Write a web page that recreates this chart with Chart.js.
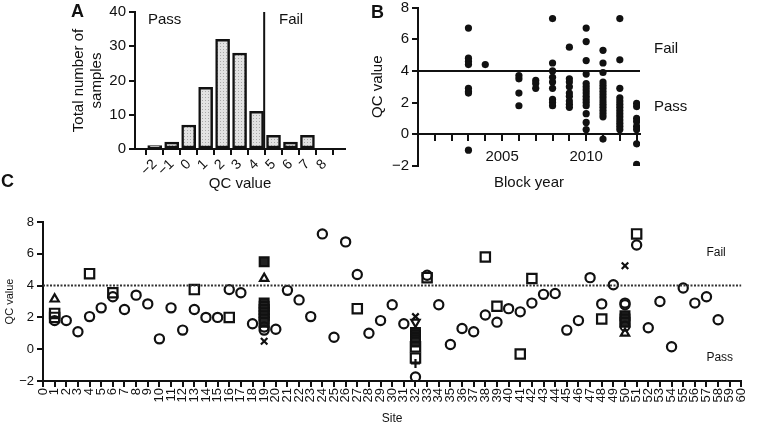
<!DOCTYPE html>
<html>
<head>
<meta charset="utf-8">
<title>QC value</title>
<script src="https://cdn.jsdelivr.net/npm/chart.js"></script>
<style>
    body { margin: 0; background: #fff; width: 758px; height: 427px; position: relative; overflow: hidden;
           font-family: "Liberation Sans", Arial, Helvetica, sans-serif; }
    canvas { position: absolute; }
    .panel-letter { position: absolute; font-weight: bold; font-size: 18px; line-height: 1; color: #111; }
</style>
</head>
<body>
<canvas id="histChart" width="365" height="195" style="left:0;top:0"></canvas>
<canvas id="yearChart" width="408" height="200" style="left:350px;top:0"></canvas>
<canvas id="siteChart" width="758" height="237" style="left:0;top:190px"></canvas>
<div class="panel-letter" style="left:71px;top:2px">A</div>
<div class="panel-letter" style="left:371px;top:3px">B</div>
<div class="panel-letter" style="left:1px;top:172px">C</div>

<script>
// A: histogram of QC values
const qcBins = [-2, -1, 0, 1, 2, 3, 4, 5, 6, 7, 8];
const sampleCounts = [1, 2, 7, 18, 32, 28, 11, 4, 2, 4, 0];
const histFailCut = 4.45;

// B: QC value by block year
const blockYears = [2003, 2004, 2006, 2007, 2008, 2009, 2010, 2011, 2012, 2013];
const yearQC = [
    [6.7, 4.8, 4.6, 4.4, 2.9, 2.7, 2.6, -1.0],
    [4.4],
    [3.7, 3.5, 2.6, 1.8],
    [3.4, 3.2, 2.9],
    [7.3, 4.5, 4.0, 3.6, 3.3, 2.9, 2.2, 2.0, 1.8],
    [5.5, 3.5, 3.3, 3.0, 2.6, 2.4, 2.1, 1.9, 1.7],
    [6.7, 5.85, 4.65, 3.8, 3.2, 3.0, 2.8, 2.6, 2.4, 2.2, 2.0, 1.8, 1.3, 0.75, 0.3],
    [5.3, 4.5, 3.9, 3.3, 3.1, 2.9, 2.7, 2.5, 2.3, 2.1, 1.9, 1.7, 1.5, 1.3, 1.1, -0.3],
    [7.3, 4.7, 2.9, 2.3, 2.1, 1.9, 1.7, 1.5, 1.3, 1.1, 0.9, 0.7, 0.5, 0.3],
    [1.95, 1.75, 1.0, 0.8, 0.5, 0.3, -0.6, -1.9]
];
const qcThreshold = 4;

// C: QC value by site, one pair of arrays per marker
const circleSites = [1,2,3,4,5,6,7,8,9,10,11,12,13,14,15,16,17,18,19,19,20,21,22,23,24,25,26,27,28,29,30,31,32,
    33,34,35,36,37,38,39,40,41,42,43,44,45,46,47,48,49,50,50,50,51,52,53,54,55,56,57,58];
const circleQC = [1.8,1.8,1.1,2.05,2.6,3.3,2.5,3.4,2.85,0.65,2.6,1.2,2.5,2.0,2.0,3.75,3.55,1.6,1.4,1.2,
    1.25,3.7,3.1,2.05,7.25,0.75,6.75,4.7,1.0,1.8,2.8,1.6,-1.75,
    4.65,2.8,0.3,1.3,1.1,2.15,1.7,2.55,2.35,2.9,3.45,3.5,1.2,1.8,4.5,2.85,4.05,2.9,2.8,1.45,
    6.55,1.35,3.0,0.15,3.85,2.9,3.3,1.85];
const squareSites = [1,1,4,6,13,16,27,32,32,33,38,39,41,42,48,51];
const squareQC = [2.25,2.0,4.75,3.55,3.75,2.0,2.55,0.15,-0.55,4.5,5.8,2.7,-0.3,4.45,1.9,7.25];
const filledSites = [19,19,19,19,19,19,19,19,32,32,32,32,32,50,50,50];
const filledQC = [5.5,2.9,2.7,2.5,2.3,2.1,1.9,1.7,1.05,0.9,0.75,0.6,0.45,2.1,1.9,1.7];
const triangleSites = [1, 19, 50];
const triangleQC = [3.15, 4.45, 1.0];
const downSites = [32];
const downQC = [1.7];
const crossSites = [19, 32, 50];
const crossQC = [0.5, 2.05, 5.25];
const plusSites = [32];
const plusQC = [-0.9];
const siteTicks = Array.from({length: 61}, (_, i) => i);

const INK = '#111';
Chart.defaults.font.family = '"Liberation Sans", Arial, Helvetica, sans-serif';
Chart.defaults.color = INK;

const minus = v => v < 0 ? '\u2212' + (-v) : String(v);
const pairs = (xs, ys) => xs.map((x, i) => ({x: x, y: ys[i]}));

// text notes drawn on the canvas, placed from the chart area
const notes = {
    id: 'notes',
    afterDraw(chart, args, opts) {
        const ctx = chart.ctx, a = chart.chartArea;
        ctx.save();
        ctx.fillStyle = INK;
        ctx.font = opts.font;
        ctx.textBaseline = 'middle';
        opts.items.forEach(it => {
            const x = it.fromRight ? a.right + it.dx : a.left + it.dx;
            ctx.fillText(it.text, x, a.top + it.dy);
        });
        ctx.restore();
    }
};

function axisLook(tickLength) {
    return {
        grid: { drawOnChartArea: false, drawTicks: true, tickLength: tickLength, color: INK, lineWidth: 2 },
        border: { display: true, color: INK, width: 2 }
    };
}

// ---- A ----
const histCtx = document.getElementById('histChart').getContext('2d');
const pc = document.createElement('canvas');
pc.width = 3; pc.height = 3;
const pg = pc.getContext('2d');
pg.fillStyle = '#e2e2e2'; pg.fillRect(0, 0, 3, 3);
pg.fillStyle = '#a8a8a8'; pg.fillRect(1, 1, 1, 1);
const dots = histCtx.createPattern(pc, 'repeat');

new Chart(histCtx, {
    type: 'bar',
    data: {
        datasets: [{
            data: pairs(qcBins, sampleCounts),
            backgroundColor: dots,
            borderColor: INK,
            borderWidth: 2.5,
            borderSkipped: false,
            barThickness: 14
        }, {
            type: 'line',
            data: [{x: histFailCut, y: 0}, {x: histFailCut, y: 40}],
            borderColor: INK,
            borderWidth: 2,
            pointRadius: 0
        }]
    },
    plugins: [notes],
    options: {
        responsive: false, animation: false, devicePixelRatio: 1,
        layout: { padding: { top: 11, right: 20, left: 0, bottom: 0 } },
        plugins: {
            legend: { display: false }, tooltip: { enabled: false },
            notes: { font: '15px "Liberation Sans", Arial, sans-serif', items: [
                { text: 'Pass', dx: 13, dy: 8 },
                { text: 'Fail', dx: 144, dy: 8 }
            ] }
        },
        scales: {
            x: Object.assign(axisLook(6), {
                type: 'linear', min: -2.6, max: 8.65,
                afterBuildTicks: s => { s.ticks = qcBins.map(v => ({value: v})); },
                afterFit: s => { s.height = 46; },
                ticks: { font: { size: 14 }, minRotation: 45, maxRotation: 45, autoSkip: false, padding: 1, callback: minus },
                title: { display: true, text: 'QC value', font: { size: 15 }, padding: { top: 0, bottom: 2 } }
            }),
            y: Object.assign(axisLook(6), {
                min: 0, max: 40,
                afterFit: s => { s.width = 135; },
                ticks: { stepSize: 10, font: { size: 15 }, padding: 3 },
                title: { display: true, text: ['Total number of', 'samples'], font: { size: 15, lineHeight: 1.2 }, padding: { top: 70, bottom: 0 } }
            })
        }
    }
});

// ---- B ----
const yearPoints = [];
blockYears.forEach((yr, i) => yearQC[i].forEach(v => yearPoints.push({x: yr, y: v})));

new Chart(document.getElementById('yearChart'), {
    type: 'scatter',
    data: {
        datasets: [{
            data: yearPoints,
            pointRadius: 3.6,
            backgroundColor: INK,
            borderWidth: 0
        }, {
            type: 'line',
            data: [{x: 2000, y: qcThreshold}, {x: 2013.2, y: qcThreshold}],
            borderColor: INK,
            borderWidth: 2,
            pointRadius: 0
        }]
    },
    plugins: [notes],
    options: {
        responsive: false, animation: false, devicePixelRatio: 1,
        layout: { padding: { top: 7, right: 118, left: 0, bottom: 34 } },
        plugins: {
            legend: { display: false }, tooltip: { enabled: false },
            notes: { font: '15px "Liberation Sans", Arial, sans-serif', items: [
                { text: 'Fail', dx: 14, dy: 41, fromRight: true },
                { text: 'Pass', dx: 14, dy: 99, fromRight: true }
            ] }
        },
        scales: {
            x: Object.assign(axisLook(6), {
                type: 'linear', position: { y: 0 }, min: 2000, max: 2013.2,
                afterBuildTicks: s => { s.ticks = []; for (let yr = 2001; yr <= 2013; yr++) s.ticks.push({value: yr}); },
                afterFit: s => { s.height = 58; },
                ticks: { font: { size: 15 }, autoSkip: false, maxRotation: 0, padding: 8,
                    callback: v => (v === 2005 || v === 2010) ? String(v) : '' },
                title: { display: true, text: 'Block year', font: { size: 15 }, padding: { top: 0, bottom: 0 } }
            }),
            y: Object.assign(axisLook(6), {
                min: -2, max: 8,
                afterFit: s => { s.width = 68; },
                ticks: { stepSize: 2, font: { size: 15, lineHeight: 0.6 }, padding: 3, callback: minus },
                title: { display: true, text: 'QC value', font: { size: 15 }, padding: { top: 19, bottom: 0 } }
            })
        }
    }
});

// ---- C ----
const markerSet = (xs, ys, style, extra) => Object.assign({
    data: pairs(xs, ys),
    pointStyle: style,
    pointRadius: 4.6,
    borderColor: INK,
    backgroundColor: 'rgba(0,0,0,0)',
    pointBorderWidth: 2.2
}, extra || {});

new Chart(document.getElementById('siteChart'), {
    type: 'scatter',
    data: {
        datasets: [
            {
                type: 'line',
                data: [{x: 0, y: qcThreshold}, {x: 60, y: qcThreshold}],
                borderColor: '#333', borderWidth: 2, borderDash: [2, 1.5], pointRadius: 0
            },
            markerSet(circleSites, circleQC, 'circle'),
            markerSet(squareSites, squareQC, 'rect', { pointRadius: 6.6 }),
            markerSet(filledSites, filledQC, 'rect', { pointRadius: 6.2, backgroundColor: '#222' }),
            markerSet(triangleSites, triangleQC, 'triangle', { pointRadius: 4.8 }),
            markerSet(downSites, downQC, 'triangle', { pointRadius: 4.8, rotation: 180 }),
            markerSet(crossSites, crossQC, 'crossRot', { pointRadius: 4.6, pointBorderWidth: 2.2 }),
            markerSet(plusSites, plusQC, 'cross', { pointRadius: 4.6, pointBorderWidth: 2.2 })
        ]
    },
    plugins: [notes],
    options: {
        responsive: false, animation: false, devicePixelRatio: 1,
        layout: { padding: { top: 32, right: 6, left: 0, bottom: 0 } },
        plugins: {
            legend: { display: false }, tooltip: { enabled: false },
            notes: { font: '12px "Liberation Sans", Arial, sans-serif', items: [
                { text: 'Fail', dx: -35, dy: 31, fromRight: true },
                { text: 'Pass', dx: -35, dy: 136, fromRight: true }
            ] }
        },
        scales: {
            x: Object.assign(axisLook(6), {
                type: 'linear', min: 0, max: 60,
                afterBuildTicks: s => { s.ticks = siteTicks.map(v => ({value: v})); },
                afterFit: s => { s.height = 46; },
                ticks: { font: { size: 13 }, autoSkip: false, minRotation: 90, maxRotation: 90, padding: 1 },
                title: { display: true, text: 'Site', font: { size: 12 }, padding: { top: 0, bottom: 1 } }
            }),
            y: Object.assign(axisLook(6), {
                min: -2, max: 8,
                afterFit: s => { s.width = 43; },
                ticks: { stepSize: 2, font: { size: 13, lineHeight: 1 }, padding: 3, callback: minus },
                title: { display: true, text: 'QC value', font: { size: 11 }, padding: { top: 3, bottom: 0 } }
            })
        }
    }
});
</script>
</body>
</html>
